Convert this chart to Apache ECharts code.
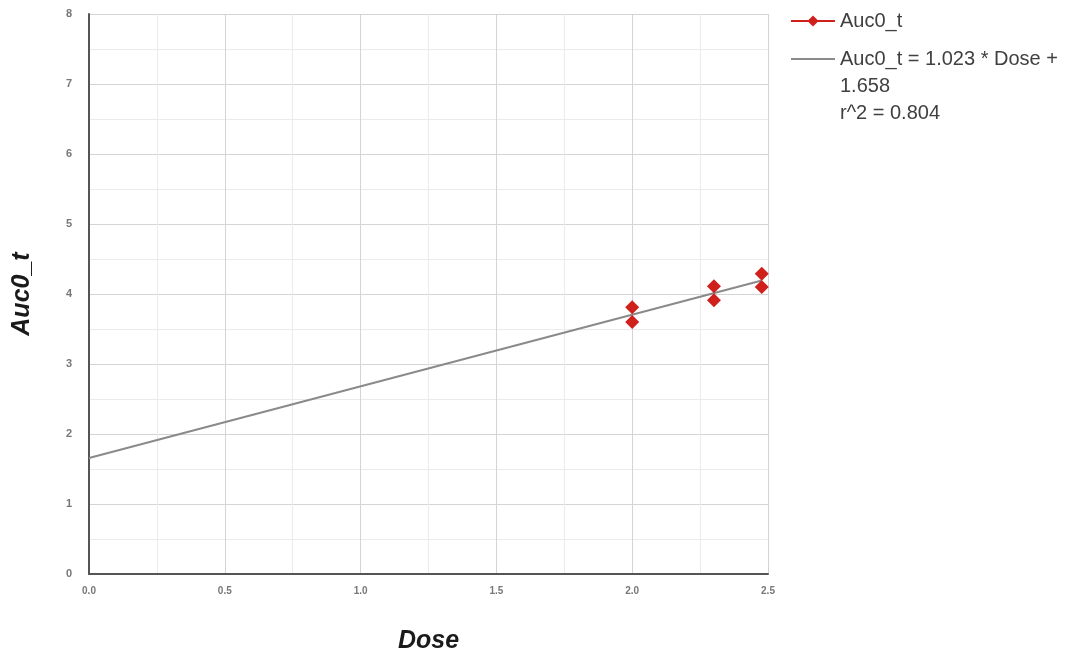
<!DOCTYPE html>
<html>
<head>
<meta charset="utf-8">
<script src="https://cdn.jsdelivr.net/npm/echarts@6/dist/echarts.min.js"></script>
<style>html,body{margin:0;padding:0;background:#fff;}#c{width:1084px;height:658px;}</style>
</head>
<body>
<div id="c"></div>
<script>
// Observed data (Dose = log10 dose, Auc0_t)
const doseValues = [2.0, 2.0, 2.301, 2.301, 2.477, 2.477];
const aucValues = [3.81, 3.60, 4.11, 3.91, 4.29, 4.10];
// Regression line
const slope = 1.023;
const intercept = 1.658;
const fitDose = [0, 2.477];
const fitAuc = [intercept + slope * 0, intercept + slope * 2.477];
const seriesName = 'Auc0_t';
const fitName = 'Auc0_t = 1.023 * Dose +';
const fitExtra = '1.658\nr^2 = 0.804';
const xTicks = { min: 0, max: 2.5, interval: 0.5 };
const yTicks = { min: 0, max: 8, interval: 1 };

const chart = echarts.init(document.getElementById('c'));
const font = 'Arial, "Liberation Sans", sans-serif';
chart.setOption({
  animation: false,
  backgroundColor: '#fff',
  grid: { left: 89, right: 316, top: 14, bottom: 84, outerBoundsMode: 'none', containLabel: false },
  title: {
    text: fitExtra, left: 840, top: 73, padding: 0,
    textStyle: { fontFamily: font, fontSize: 20, fontWeight: 'normal', color: '#404040', lineHeight: 27 }
  },
  legend: {
    orient: 'vertical', left: 790, top: 11, padding: 0, itemGap: 18,
    itemWidth: 44, itemHeight: 14,
    textStyle: { fontFamily: font, fontSize: 20, color: '#404040', lineHeight: 20 },
    data: [
      { name: seriesName, lineStyle: { opacity: 1, width: 2, color: '#d0201c' } },
      { name: fitName, itemStyle: { opacity: 0 } }
    ]
  },
  xAxis: {
    type: 'value', min: xTicks.min, max: xTicks.max, interval: xTicks.interval,
    name: 'Dose', nameLocation: 'middle', nameGap: 55,
    nameTextStyle: { fontFamily: font, fontSize: 25, fontWeight: 'bold', fontStyle: 'italic', color: '#1a1a1a' },
    axisLine: { show: true, onZero: false, lineStyle: { color: '#555', width: 2 } },
    axisTick: { show: false },
    axisLabel: { fontFamily: font, fontSize: 10, fontWeight: 'bold', color: '#777', margin: 12,
      formatter: v => v.toFixed(1) },
    splitLine: { show: true, lineStyle: { color: '#d4d4d4', width: 1 } },
    minorTick: { show: false, splitNumber: 2 },
    minorSplitLine: { show: true, lineStyle: { color: '#ebebeb', width: 1 } }
  },
  yAxis: {
    type: 'value', min: yTicks.min, max: yTicks.max, interval: yTicks.interval,
    name: 'Auc0_t', nameLocation: 'middle', nameGap: 54,
    nameTextStyle: { fontFamily: font, fontSize: 25, fontWeight: 'bold', fontStyle: 'italic', color: '#1a1a1a' },
    axisLine: { show: true, onZero: false, lineStyle: { color: '#555', width: 2 } },
    axisTick: { show: false },
    axisLabel: { fontFamily: font, fontSize: 11, fontWeight: 'bold', color: '#777', margin: 17 },
    splitLine: { show: true, lineStyle: { color: '#d4d4d4', width: 1 } },
    minorTick: { show: false, splitNumber: 2 },
    minorSplitLine: { show: true, lineStyle: { color: '#ebebeb', width: 1 } }
  },
  series: [
    {
      name: fitName, type: 'line', symbol: 'none', z: 2,
      lineStyle: { color: '#8a8a8a', width: 2 },
      itemStyle: { color: '#8a8a8a' },
      data: fitDose.map((d, i) => [d, fitAuc[i]])
    },
    {
      name: seriesName, type: 'line', symbol: 'diamond', symbolSize: 14, z: 3,
      lineStyle: { opacity: 0, color: '#d0201c', width: 2 },
      itemStyle: { color: '#d0201c' },
      data: doseValues.map((d, i) => [d, aucValues[i]])
    }
  ]
});
</script>
</body>
</html>
